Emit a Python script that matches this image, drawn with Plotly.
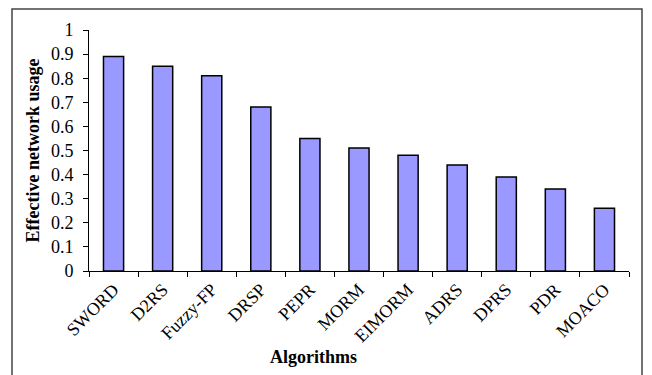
import plotly.graph_objects as go

algorithms = ["SWORD", "D2RS", "Fuzzy-FP", "DRSP", "PEPR", "MORM", "EIMORM", "ADRS", "DPRS", "PDR", "MOACO"]
usage = [0.89, 0.85, 0.81, 0.68, 0.55, 0.51, 0.48, 0.44, 0.39, 0.34, 0.26]
y_ticks = [0, 0.1, 0.2, 0.3, 0.4, 0.5, 0.6, 0.7, 0.8, 0.9, 1]
y_tick_text = ["0", "0.1", "0.2", "0.3", "0.4", "0.5", "0.6", "0.7", "0.8", "0.9", "1"]

W, H = 652, 375
L, R, T, B = 89, 23, 30, 104
pw, ph = W - L - R, H - T - B

fig = go.Figure(go.Bar(
    x=algorithms, y=usage,
    marker=dict(color="#9999FF", line=dict(color="black", width=1.5)),
))

font = "Liberation Serif, Times New Roman, serif"
fig.update_layout(
    width=W, height=H,
    margin=dict(l=L, r=R, t=T, b=B),
    paper_bgcolor="white", plot_bgcolor="white",
    bargap=0.59,
    showlegend=False,
    font=dict(family=font, size=18, color="black"),
    xaxis=dict(
        showline=True, linecolor="black", linewidth=1,
        ticks="outside", ticklen=5, tickcolor="black",
        tickson="boundaries", tickangle=-45,
        tickfont=dict(family=font, size=18),
        showgrid=False, automargin=False,
    ),
    yaxis=dict(
        range=[0, 1], tickvals=y_ticks, ticktext=y_tick_text,
        showline=True, linecolor="black", linewidth=1,
        ticks="outside", ticklen=5, tickcolor="black",
        tickfont=dict(family=font, size=18),
        ticklabelstandoff=6,
        showgrid=False, zeroline=False, automargin=False,
    ),
    annotations=[
        dict(text="<b>Effective network usage</b>", xref="paper", yref="paper",
             x=(32 - L) / pw, y=0.5, textangle=-90, showarrow=False,
             font=dict(family=font, size=18), xanchor="center", yanchor="middle"),
        dict(text="<b>Algorithms</b>", xref="paper", yref="paper",
             x=(313 - L) / pw, y=(T + ph - 357) / ph, showarrow=False,
             font=dict(family=font, size=18), xanchor="center", yanchor="middle"),
    ],
    shapes=[
        dict(type="rect", xref="paper", yref="paper",
             x0=(12 - L) / pw, x1=(642 - L) / pw,
             y0=(T + ph - 400) / ph, y1=(T + ph - 9) / ph,
             line=dict(color="#444444", width=1.5), fillcolor="rgba(0,0,0,0)", layer="below"),
    ],
)

fig.write_html("out.html")
